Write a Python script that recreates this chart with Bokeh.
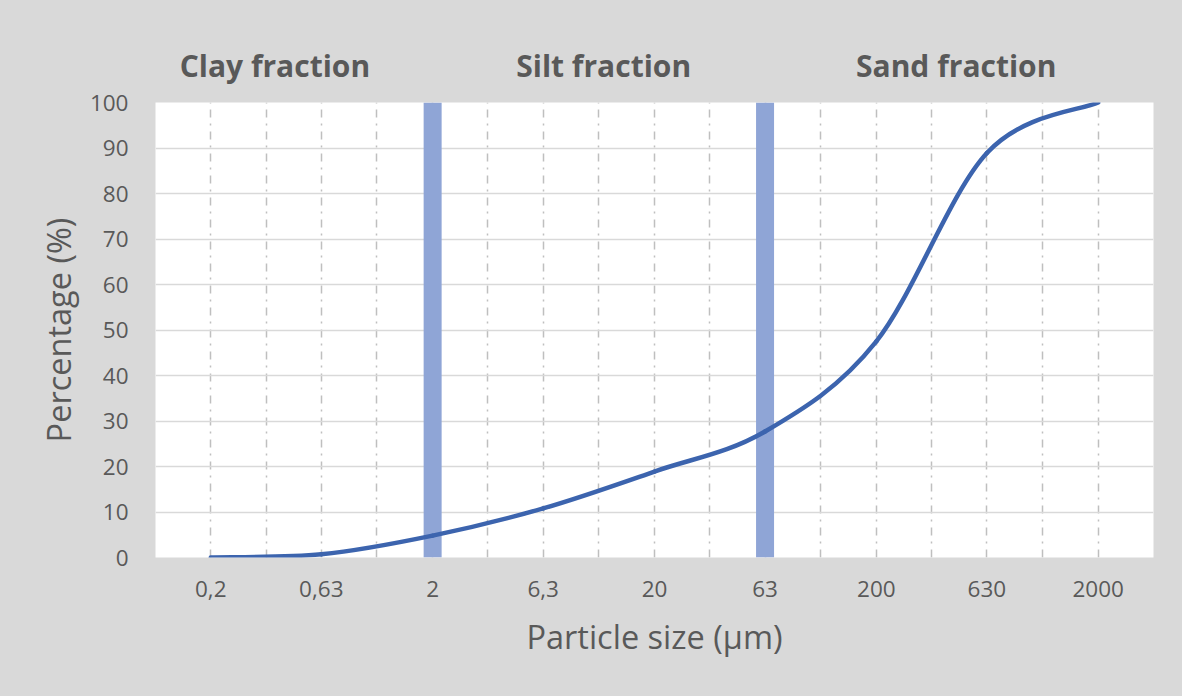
import math

from bokeh.core.properties import value
from bokeh.embed import file_html
from bokeh.layouts import column
from bokeh.models import FixedTicker
from bokeh.plotting import figure
from bokeh.resources import INLINE

# Sieve sizes (µm) and cumulative passing (%)
sizes = [0.2, 0.63, 2, 6.3, 20, 63, 200, 630, 2000]
size_labels = ["0,2", "0,63", "2", "6,3", "20", "63", "200", "630", "2000"]
percent = [0.0, 0.7, 4.8, 10.8, 18.9, 27.7, 47.5, 88.9, 100.0]

# Fraction boundaries (µm)
boundaries = [2, 63]

# Fraction names
fraction_names = ["Clay fraction", "Silt fraction", "Sand fraction"]
fraction_label_x = [0.389, 11.8, 458]

y_ticks = list(range(0, 101, 10))

GREY_BG = "#d9d9d9"
GREY_TEXT = "#595959"
FONT = "Open Sans"

# Half a tick step on each side of the outer ticks
step = math.log10(sizes[1]) - math.log10(sizes[0])
x_lo = 10 ** (math.log10(sizes[0]) - step / 2)
x_hi = 10 ** (math.log10(sizes[-1]) + step / 2)

LEFT, RIGHT = 155, 29
FRAME_W = 998
HEAD_H = 86
MAIN_TOP = 16

# Strip above the chart holding the fraction names
head = figure(
    x_axis_type="log",
    x_range=(x_lo, x_hi),
    y_range=(0, HEAD_H),
    frame_width=FRAME_W,
    frame_height=HEAD_H,
    min_border_left=LEFT,
    min_border_right=RIGHT,
    min_border_top=0,
    min_border_bottom=0,
    x_axis_location=None,
    y_axis_location=None,
    background_fill_color=GREY_BG,
    border_fill_color=GREY_BG,
    outline_line_color=None,
    output_backend="svg",
    toolbar_location=None,
)
head.grid.visible = False
head.text(
    x=fraction_label_x, y=[21] * len(fraction_names), text=fraction_names,
    text_align="center", text_baseline="alphabetic",
    text_font=value(FONT), text_font_size="30px", text_font_style="bold",
    text_color=GREY_TEXT,
)

p = figure(
    x_axis_type="log",
    x_range=head.x_range,
    y_range=(0, 100),
    frame_width=FRAME_W,
    frame_height=455,
    min_border_left=LEFT,
    min_border_right=RIGHT,
    min_border_top=MAIN_TOP,
    min_border_bottom=139,
    background_fill_color="white",
    border_fill_color=GREY_BG,
    outline_line_color=None,
    output_backend="svg",
    toolbar_location=None,
)

# Axes
p.xaxis.ticker = FixedTicker(ticks=sizes, minor_ticks=[])
p.xaxis.major_label_overrides = {s: lab for s, lab in zip(sizes, size_labels)}
p.yaxis.ticker = FixedTicker(ticks=y_ticks, minor_ticks=[])

for ax in (p.xaxis[0], p.yaxis[0]):
    ax.axis_line_color = None
    ax.major_tick_line_color = None
    ax.minor_tick_line_color = None
    ax.major_label_text_font = FONT
    ax.major_label_text_font_size = "22.5px"
    ax.major_label_text_color = GREY_TEXT
    ax.axis_label_text_font = FONT
    ax.axis_label_text_font_size = "32.5px"
    ax.axis_label_text_font_style = "normal"
    ax.axis_label_text_color = GREY_TEXT

p.xaxis.axis_label = "Particle size (µm)"
p.yaxis.axis_label = "Percentage (%)"
p.xaxis.major_label_standoff = 17
p.xaxis.axis_label_standoff = 14
p.yaxis.major_label_standoff = 21
p.yaxis.axis_label_standoff = 6

# Grid: dashed verticals at ticks and halfway between them, solid horizontals
logs = [math.log10(s) for s in sizes]
grid_x = [x_lo]
for a, b in zip(logs[:-1], logs[1:]):
    grid_x += [10 ** a, 10 ** ((a + b) / 2)]
grid_x += [sizes[-1], x_hi]
p.xgrid.ticker = FixedTicker(ticks=grid_x, minor_ticks=[])
p.xgrid.grid_line_color = "#bfbfbf"
p.xgrid.grid_line_width = 1.5
p.xgrid.grid_line_dash = "8 6 2 6"
p.ygrid.ticker = FixedTicker(ticks=y_ticks, minor_ticks=[])
p.ygrid.grid_line_color = GREY_BG
p.ygrid.grid_line_width = 1.5

# Fraction boundary bars
p.segment(
    x0=boundaries, y0=[0] * len(boundaries),
    x1=boundaries, y1=[100] * len(boundaries),
    line_color="#8fa5d6", line_width=18, line_cap="butt",
)

# Smoothed grading curve: cubic Bezier segments through the data points,
# control points from neighbouring points (in log-x space)
n = len(sizes)
pts = list(zip(logs, percent))
x0, y0, x1, y1, cx0, cy0, cx1, cy1 = ([] for _ in range(8))
for i in range(n - 1):
    p_prev = pts[max(i - 1, 0)]
    p_a = pts[i]
    p_b = pts[i + 1]
    p_next = pts[min(i + 2, n - 1)]
    c0 = (p_a[0] + (p_b[0] - p_prev[0]) / 6, p_a[1] + (p_b[1] - p_prev[1]) / 6)
    c1 = (p_b[0] - (p_next[0] - p_a[0]) / 6, p_b[1] - (p_next[1] - p_a[1]) / 6)
    x0.append(sizes[i]); y0.append(percent[i])
    x1.append(sizes[i + 1]); y1.append(percent[i + 1])
    cx0.append(10 ** c0[0]); cy0.append(c0[1])
    cx1.append(10 ** c1[0]); cy1.append(c1[1])

p.bezier(
    x0=x0, y0=y0, x1=x1, y1=y1, cx0=cx0, cy0=cy0, cx1=cx1, cy1=cy1,
    line_color="#3c64ae", line_width=4.5, line_cap="round",
)

layout = column(head, p, spacing=0, styles={"background-color": GREY_BG})
open("out.html", "w").write(file_html(layout, INLINE))
